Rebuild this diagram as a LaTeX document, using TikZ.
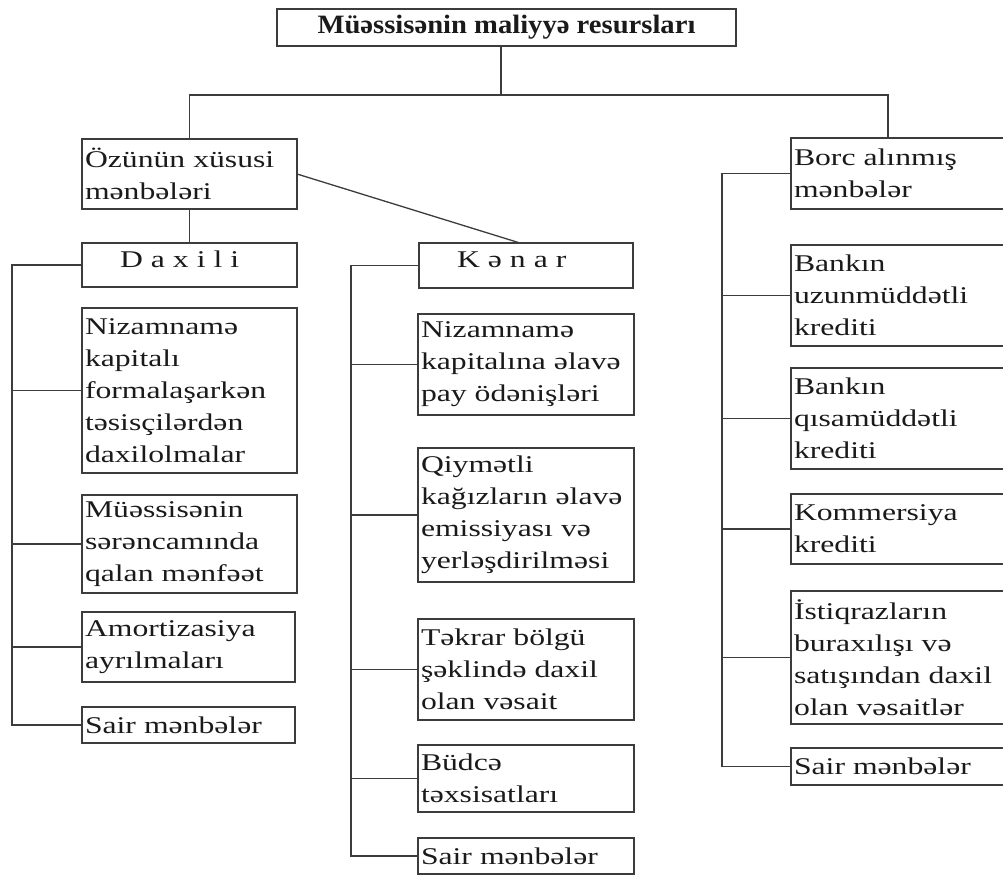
\documentclass[tikz,border=0pt]{standalone}
\usepackage{fontspec}
\setmainfont{Liberation Serif}[FakeStretch=1.32]
\newfontfamily\titlefont{Liberation Serif}[FakeStretch=1.08]
\definecolor{linec}{HTML}{3C3C3C}
\definecolor{txt}{HTML}{1A1A1A}
\begin{document}
\begin{tikzpicture}[x=1pt,y=-1pt,
  box/.style={draw=linec, line width=1.3pt, anchor=north west, outer sep=0pt,
    inner xsep=3pt, inner ysep=0pt, align=left, text=txt,
    font=\fontsize{24}{32}\selectfont},
  headbox/.style={box, text height=24pt, text depth=20pt},
  conn/.style={draw=linec, line width=1.3pt}]
\useasboundingbox (0,0) rectangle (1003,875);

% title
\node[draw=linec, line width=1.3pt, anchor=north west, outer sep=0pt,
  minimum width=459pt, minimum height=37pt, inner sep=0pt, text=txt,
  font=\titlefont\bfseries\fontsize{26.5}{30}\selectfont] (title) at (277,9)
  {Müəssisənin maliyyə resursları};

% level 1
\node[box, text width=209pt, minimum height=70pt] (own) at (82,139)
  {Özünün~xüsusi\\mənbələri};
\node[box, text width=207.5pt, minimum height=71pt] (borc) at (791,138)
  {Borc~alınmış\\mənbələr};

% level 2
\node[headbox, text width=209pt] (dax) at (82,243)
  {\hspace*{35pt}D a x i l i};
\node[headbox, text width=208pt, text depth=21pt] (ken) at (419,243)
  {\hspace*{35pt}K ə n a r};

% left column
\node[box, text width=209pt, minimum height=165pt] (l1) at (82,308)
  {Nizamnamə\\kapitalı\\formalaşarkən\\təsisçilərdən\\daxilolmalar};
\node[box, text width=209pt, minimum height=98pt] (l2) at (82,495)
  {Müəssisənin\\sərəncamında\\qalan~mənfəət};
\node[box, text width=207pt, minimum height=70pt] (l3) at (82,612)
  {Amortizasiya\\ayrılmaları};
\node[box, text width=207pt, minimum height=36pt] (l4) at (82,707)
  {Sair~mənbələr};

% middle column
\node[box, text width=210pt, minimum height=101pt] (m1) at (418,314)
  {Nizamnamə\\kapitalına~əlavə\\pay~ödənişləri};
\node[box, text width=210pt, minimum height=134pt] (m2) at (418,448)
  {Qiymətli\\kağızların~əlavə\\emissiyası~və\\yerləşdirilməsi};
\node[box, text width=210pt, minimum height=101pt] (m3) at (418,619)
  {Təkrar~bölgü\\şəklində~daxil\\olan~vəsait};
\node[box, text width=210pt, minimum height=67pt] (m4) at (418,745)
  {Büdcə\\təxsisatları};
\node[box, text width=210pt, minimum height=36pt] (m5) at (418,838)
  {Sair~mənbələr};

% right column
\node[box, text width=207.5pt, minimum height=101pt] (r1) at (791,245)
  {Bankın\\uzunmüddətli\\krediti};
\node[box, text width=207.5pt, minimum height=101pt] (r2) at (791,368)
  {Bankın\\qısamüddətli\\krediti};
\node[box, text width=207.5pt, minimum height=70pt] (r3) at (791,494)
  {Kommersiya\\krediti};
\node[box, text width=207.5pt, minimum height=133pt] (r4) at (791,591)
  {İstiqrazların\\buraxılışı~və\\satışından~daxil\\olan~vəsaitlər};
\node[box, text width=207.5pt, minimum height=37pt] (r5) at (791,748)
  {Sair~mənbələr};

% connectors: top
\coordinate (tbus) at (501,95);
\coordinate (rbus) at (888,95);
\draw[conn] (title.south -| tbus) -- (tbus);
\draw[conn] (own.north) -- (own.north |- tbus) -- (rbus) -- (borc.north -| rbus);
\draw[conn] (own.south) -- (dax.north);
\draw[conn] (own.east) -- ([xshift=101pt]ken.north west);

% left spine
\coordinate (lsp) at (12,0);
\draw[conn] (dax.west) -- (dax.west -| lsp) -- (l4.west -| lsp) -- (l4.west);
\foreach \n in {l1,l2,l3} \draw[conn] (\n.west -| lsp) -- (\n.west);

% middle spine
\coordinate (msp) at (351,0);
\draw[conn] (ken.west) -- (ken.west -| msp) -- (m5.west -| msp) -- (m5.west);
\foreach \n in {m1,m2,m3,m4} \draw[conn] (\n.west -| msp) -- (\n.west);

% right spine
\coordinate (rsp) at (722,0);
\draw[conn] (borc.west) -- (borc.west -| rsp) -- (r5.west -| rsp) -- (r5.west);
\foreach \n in {r1,r2,r3,r4} \draw[conn] (\n.west -| rsp) -- (\n.west);
\end{tikzpicture}
\end{document}
